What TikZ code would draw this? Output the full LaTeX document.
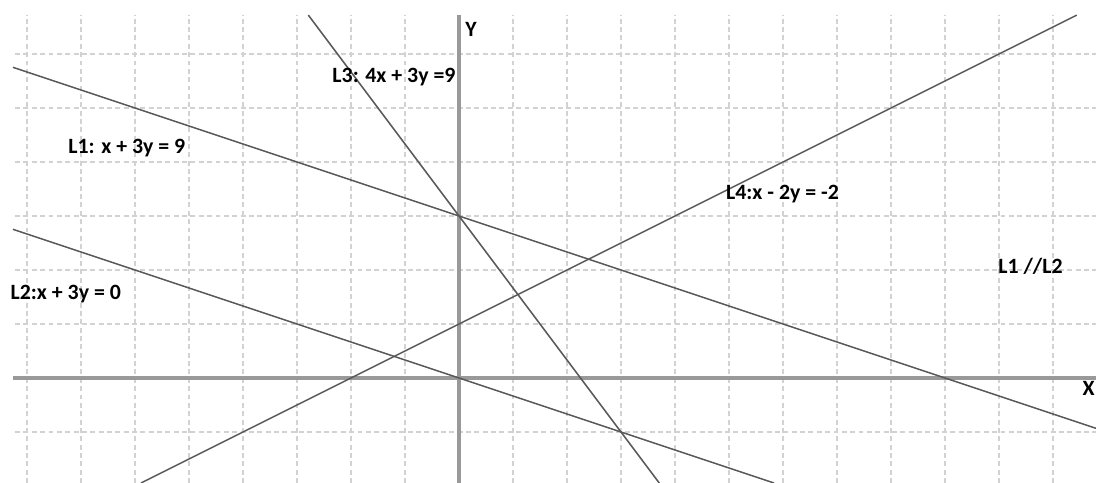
\documentclass[tikz,border=0pt]{standalone}
\usepackage{fontspec}
\setmainfont{Carlito}

\begin{document}
\begin{tikzpicture}[font=\bfseries\fontsize{11.5}{13}\selectfont,
 grid/.style={gray!35,line width=.6pt,dash pattern=on 2.6pt off 1.8pt},
 axis/.style={gray!80,line width=1.6pt},
 graph/.style={black!65,line width=.8pt},
 lbl/.style={inner sep=0pt,anchor=west}]
\useasboundingbox (-8.5,-1.944) rectangle (11.796,7);
% grid
\foreach \x in {-8,...,11} \draw[grid] (\x,-1.944)--(\x,6.72);
\foreach \y in {-1,1,2,3,4,5,6} \draw[grid] (-8.22,\y)--(11.796,\y);
% axes
\coordinate (xl) at (-8.26,0); \coordinate (xr) at (11.796,0);
\coordinate (yb) at (0,-1.944); \coordinate (yt) at (0,6.72);
\draw[axis] (xl)--(xr);
\draw[axis] (yb)--(yt);
% lines
\coordinate (l1a) at (-8.26,5.753); \coordinate (l1b) at (11.796,-0.932);
\coordinate (l2a) at (-8.26,2.753); \coordinate (l2b) at (5.833,-1.944);
\coordinate (l3a) at (-2.79,6.72); \coordinate (l3b) at (3.708,-1.944);
\coordinate (l4a) at (-5.889,-1.944); \coordinate (l4b) at (11.44,6.72);
\draw[graph] (l1a)--(l1b);
\draw[graph] (l2a)--(l2b);
\draw[graph] (l3a)--(l3b);
\draw[graph] (l4a)--(l4b);
% labels
\node[lbl] (eq1) at (-7.24,4.26) {L1: x + 3y = 9};
\node[lbl] (eq2) at (-8.31,1.56) {L2:x + 3y = 0};
\node[lbl] (eq3) at (-2.35,5.58) {L3: 4x + 3y =9};
\node[lbl] (eq4) at (4.94,3.4) {L4:x - 2y = -2};
\node[lbl] (par) at (9.98,2.06) {L1 //L2};
\node[lbl] (ylab) at (0.11,6.46) {Y};
\node[lbl] (xlab) at (11.54,-0.19) {X};
\end{tikzpicture}
\end{document}
